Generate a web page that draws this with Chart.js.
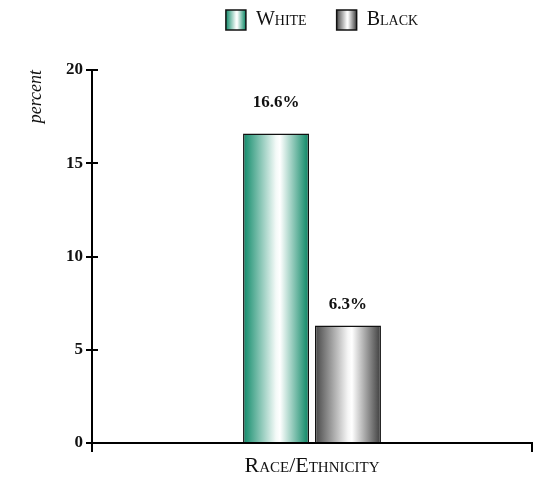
<!DOCTYPE html>
<html>
<head>
<meta charset="utf-8">
<script src="https://cdn.jsdelivr.net/npm/chart.js@4.4.0/dist/chart.umd.min.js"></script>
<style>
  html, body { margin: 0; padding: 0; background: #fff; }
</style>
</head>
<body>
<canvas id="chart" width="538" height="479"></canvas>
<script>
// ---------- datos ----------
const categories = ["Race/Ethnicity"];
const seriesNames = ["White", "Black"];
const whiteValues = [16.6];
const blackValues = [6.3];
const yTicks = [0, 5, 10, 15, 20];

// ---------- estilos ----------
const FONT = "'Liberation Serif', 'DejaVu Serif', serif";
const gradStops = [
  [[0, "#0f8a69"], [0.5, "#f4faf8"], [0.56, "#ffffff"], [1, "#078562"]],
  [[0, "#474747"], [0.5, "#f6f6f6"], [0.56, "#ffffff"], [1, "#3c3c3c"]]
];
const labelGap = [26, 17];
const LEGEND_PAD = 30;

function makeGrad(ctx, x0, x1, stops) {
  const g = ctx.createLinearGradient(x0, 0, x1, 0);
  stops.forEach(s => g.addColorStop(s[0], s[1]));
  return g;
}

// coloca la leyenda arriba, sobre el área del gráfico
const legendPlacePlugin = {
  id: "legendPlace",
  afterLayout(chart) {
    const lg = chart.legend;
    if (!lg) return;
    const h = lg.height;
    lg.top = 10 - LEGEND_PAD;
    lg.bottom = lg.top + h;
    lg.left = 112;
    lg.right = chart.chartArea.right;
    lg.width = lg.right - lg.left;
  }
};

// rellena barras y cajas de leyenda con degradado horizontal
const gradientPlugin = {
  id: "gradients",
  beforeDraw(chart) {
    const ctx = chart.ctx;
    chart.data.datasets.forEach((ds, i) => {
      chart.getDatasetMeta(i).data.forEach(el => {
        const l = el.x - el.width / 2, r = el.x + el.width / 2;
        el.options.backgroundColor = makeGrad(ctx, l, r, gradStops[i]);
      });
    });
    const lg = chart.legend;
    if (lg && lg.legendHitBoxes) {
      lg.legendItems.forEach((it, i) => {
        const hb = lg.legendHitBoxes[i];
        if (!hb) return;
        const bw = lg.options.labels.boxWidth;
        it.fillStyle = makeGrad(ctx, hb.left, hb.left + bw, gradStops[it.datasetIndex]);
      });
    }
  }
};

// etiquetas de valor y marcas interiores del eje y
const labelsPlugin = {
  id: "valueLabels",
  afterDatasetsDraw(chart) {
    const ctx = chart.ctx;
    ctx.save();
    ctx.font = "bold 17px " + FONT;
    ctx.fillStyle = "#111";
    ctx.textAlign = "center";
    ctx.textBaseline = "alphabetic";
    chart.data.datasets.forEach((ds, i) => {
      chart.getDatasetMeta(i).data.forEach((el, j) => {
        ctx.fillText(ds.data[j].toFixed(1) + "%", el.x, el.y - labelGap[i]);
      });
    });
    ctx.restore();
  },
  afterDraw(chart) {
    const ctx = chart.ctx, y = chart.scales.y, x0 = chart.chartArea.left;
    ctx.save();
    ctx.strokeStyle = "#000";
    ctx.lineWidth = 2;
    y.ticks.forEach((t, i) => {
      if (t.value === 0) return;
      const py = Math.round(y.getPixelForTick(i));
      ctx.beginPath();
      ctx.moveTo(x0, py);
      ctx.lineTo(x0 + 6, py);
      ctx.stroke();
    });
    ctx.restore();
  }
};

new Chart(document.getElementById("chart"), {
  type: "bar",
  data: {
    labels: categories,
    datasets: [
      { label: seriesNames[0], data: whiteValues, backgroundColor: "#0f8a69", borderColor: "#111", borderWidth: 1.5 },
      { label: seriesNames[1], data: blackValues, backgroundColor: "#555", borderColor: "#111", borderWidth: 1.5 }
    ]
  },
  options: {
    responsive: false,
    animation: false,
    layout: { padding: { left: 0, right: 6, top: 0, bottom: 0 } },
    datasets: { bar: { categoryPercentage: 0.327, barPercentage: 0.917 } },
    plugins: {
      tooltip: { enabled: false },
      legend: {
        position: "top",
        align: "center",
        labels: {
          boxWidth: 20,
          boxHeight: 20,
          padding: LEGEND_PAD,
          color: "#111",
          font: { family: FONT, size: 20, weight: "small-caps 400" }
        }
      }
    },
    scales: {
      x: {
        grid: { display: true, offset: true, drawOnChartArea: false, tickLength: 9, color: "#000", lineWidth: 2 },
        border: { color: "#000", width: 2 },
        ticks: { color: "#111", padding: 1, font: { family: FONT, size: 22, weight: "small-caps 400" } },
        afterFit: s => { s.height = 36; }
      },
      y: {
        min: 0,
        max: 20,
        afterBuildTicks: s => { s.ticks = yTicks.map(v => ({ value: v })); },
        grid: { display: true, drawOnChartArea: false, tickLength: 6, color: "#000", lineWidth: 2 },
        border: { color: "#000", width: 2 },
        ticks: { color: "#111", padding: 3, font: { family: FONT, size: 17, weight: "bold" } },
        title: {
          display: true,
          text: "percent",
          align: "end",
          color: "#111",
          padding: { top: 25, bottom: 0 },
          font: { family: FONT, size: 18, style: "italic" }
        },
        afterFit: s => { s.width = 92; s.paddingTop = 70; }
      }
    }
  },
  plugins: [legendPlacePlugin, gradientPlugin, labelsPlugin]
});
</script>
</body>
</html>
